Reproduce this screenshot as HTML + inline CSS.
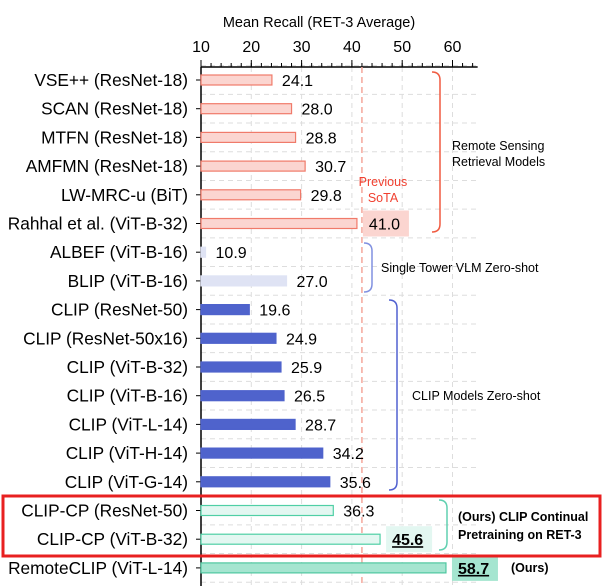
<!DOCTYPE html>
<html><head><meta charset="utf-8"><style>
html,body{margin:0;padding:0;background:#fff}
svg{display:block;font-family:"Liberation Sans",Arial,sans-serif}
</style></head><body>
<svg id="chart" width="603" height="586" viewBox="0 0 603 586"></svg>
<script>
const categories=["VSE++ (ResNet-18)","SCAN (ResNet-18)","MTFN (ResNet-18)","AMFMN (ResNet-18)","LW-MRC-u (BiT)","Rahhal et al. (ViT-B-32)","ALBEF (ViT-B-16)","BLIP (ViT-B-16)","CLIP (ResNet-50)","CLIP (ResNet-50x16)","CLIP (ViT-B-32)","CLIP (ViT-B-16)","CLIP (ViT-L-14)","CLIP (ViT-H-14)","CLIP (ViT-G-14)","CLIP-CP (ResNet-50)","CLIP-CP (ViT-B-32)","RemoteCLIP (ViT-L-14)"];
const values=[24.1,28.0,28.8,30.7,29.8,41.0,10.9,27.0,19.6,24.9,25.9,26.5,28.7,34.2,35.6,36.3,45.6,58.7];
const groups=["rs","rs","rs","rs","rs","rs","st","st","clip","clip","clip","clip","clip","clip","clip","cp","cp","ours"];
const ticks=[10,20,30,40,50,60];
const sotaValue=41;
const NS="http://www.w3.org/2000/svg";
const svg=document.getElementById('chart');
const x0=201,ppu=5.03,rowTop=80,rowH=28.7;
const X=v=>x0+(v-10)*ppu;
const Y=i=>rowTop+i*rowH;
function mk(t,a,p){const e=document.createElementNS(NS,t);for(const k in a)e.setAttribute(k,a[k]);(p||svg).appendChild(e);return e;}
const style={rs:["#fbd5d0","#f07a6a"],st:["#dfe3f4","#dfe3f4"],clip:["#4f63cc","#4f63cc"],cp:["#e3f7f1","#4fcfa5"],ours:["#a5e5d0","#4fc7a0"]};
const right=X(65);
for(let i=0;i<=categories.length;i++){const y=Y(i)-rowH/2;const g=mk('line',{x1:x0,x2:right,y1:y,y2:y,stroke:'#ddd','stroke-dasharray':'5,4'});
}
ticks.forEach(t=>{const g=mk('line',{x1:X(t),x2:X(t),y1:67,y2:586,stroke:'#ddd','stroke-dasharray':'5,4'});
});
const ax=mk('line',{x1:x0,x2:right,y1:67,y2:67,stroke:'#000','stroke-width':1.5});

const ay=mk('line',{x1:x0,x2:x0,y1:67,y2:586,stroke:'#000','stroke-width':1.5});

for(let v=10;v<=65;v+=2){const t=mk('line',{x1:X(v),x2:X(v),y1:63,y2:67,stroke:'#000'});}
ticks.forEach(t=>{mk('line',{x1:X(t),x2:X(t),y1:60,y2:67,stroke:'#000'});
const l=mk('text',{x:X(t),y:52,'font-size':16,'text-anchor':'middle'});l.textContent=t;
});
const at=mk('text',{x:319,y:27,'font-size':14.5,'text-anchor':'middle'});at.textContent="Mean Recall (RET-3 Average)";

const sl=mk('line',{x1:X(sotaValue)+5,x2:X(sotaValue)+5,y1:67,y2:586,stroke:'#f4a79b','stroke-width':1.5,'stroke-dasharray':'6,4'});

categories.forEach((c,i)=>{const y=Y(i);const s=style[groups[i]];
mk('line',{x1:x0-5,x2:x0,y1:y,y2:y,stroke:'#000'});
const lb=mk('text',{x:188,y:y+6,'font-size':17.3,'text-anchor':'end'});lb.textContent=c;

const b=mk('rect',{x:x0,y:y-5,width:X(values[i])-x0,height:10,fill:s[0],stroke:s[1],'stroke-width':1.2});

const txt=values[i].toFixed(1);const bx=X(values[i])+10;
const special=(i===5||i===16||i===17);
if(special){const bg=i===5?'#fbd5d0':(i===16?'#e3f7f1':'#a5e5d0');
const r=mk('rect',{x:bx-4,y:y-13,width:46,height:26,fill:bg});}
const vt=mk('text',{x:bx+(special?2:0),y:y+6,'font-size':16,'font-weight':i>=16?'bold':'normal'});vt.textContent=txt;
if(i>=16)vt.setAttribute('text-decoration','underline');
});
function br(x,y1,y2,col,name){const p=mk('path',{d:`M${x-8},${y1} Q${x},${y1} ${x},${y1+8} L${x},${y2-8} Q${x},${y2} ${x-8},${y2}`,fill:'none',stroke:col,'stroke-width':1.5});
}
br(440,72,232,'#f05a40','bracket-rs');br(372,243,292,'#8090e0','bracket-single');br(397,300,490,'#5060d0','bracket-clip');br(447,500,550,'#60d0b0','bracket-cp');
function tx(x,y,s,t,extra,name){const e=mk('text',Object.assign({x:x,y:y,'font-size':s},extra||{}));e.textContent=t;}
tx(452,150,12.5,"Remote Sensing",{},'group-label');tx(452,166,12.5,"Retrieval Models",{},'group-label');
tx(381,272,12.5,"Single Tower VLM Zero-shot",{},'group-label');
tx(412,400,12.5,"CLIP Models Zero-shot",{},'group-label');
tx(458,521,12.5,"(Ours) CLIP Continual",{'font-weight':'bold'},'group-label');
tx(458,539,12.5,"Pretraining on RET-3",{'font-weight':'bold'},'group-label');
tx(511,572,12.5,"(Ours)",{'font-weight':'bold'},'ours-label');
tx(383,186,12.5,"Previous",{fill:'#f04030','text-anchor':'middle'},'sota-label');
tx(383,202,12.5,"SoTA",{fill:'#f04030','text-anchor':'middle'},'sota-label');
const hb=mk('rect',{x:3,y:496,width:597,height:60,fill:'none',stroke:'#e82020','stroke-width':3});

</script>
</body></html>
